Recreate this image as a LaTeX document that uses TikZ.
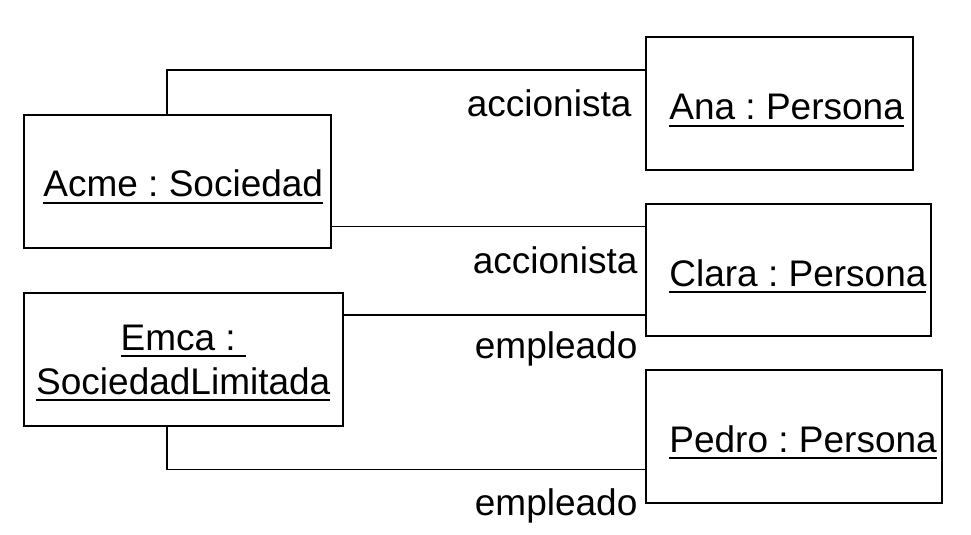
\documentclass[tikz,border=0pt]{standalone}
\usepackage{fontspec}
\setmainfont{Liberation Sans}
\frenchspacing
\newcommand\objname[1]{\setbox0=\hbox{#1}\rlap{\rule[-3.5pt]{\wd0}{1.2pt}}\box0}
\tikzset{
  objbox/.style={draw, line width=0.8pt, rectangle, anchor=north west, inner sep=0pt},
  objtext/.style={anchor=base west, inner sep=0pt},
  link/.style={line width=0.6pt},
  role/.style={anchor=base east, inner sep=0pt},
}
\begin{document}
\begin{tikzpicture}[x=0.5pt, y=-0.5pt, font=\fontsize{18.5}{22}\selectfont]
        \useasboundingbox (0,0) rectangle (971,535);

        \node[objbox, minimum width=153.5pt, minimum height=66.5pt] at (23,114) (acme) {};
        \node[objbox, minimum width=133.5pt, minimum height=66.5pt] at (645,36) (ana) {};
        \node[objbox, minimum width=142.5pt, minimum height=66pt] at (645,203) (clara) {};
        \node[objbox, minimum width=148pt, minimum height=66.5pt] at (645,369) (pedro) {};
        \node[objbox, minimum width=159.5pt, minimum height=66.5pt, align=center, text depth=0pt] at (23,292) (emca) {\objname{Emca :\ }\\\objname{SociedadLimitada}};

        \node[objtext] at (43,197) (acmetext) {\objname{Acme : Sociedad}};
        \node[objtext] at (669,120) (anatext) {\objname{Ana : Persona}};
        \node[objtext] at (669,286) (claratext) {\objname{Clara : Persona}};
        \node[objtext] at (669,452) (pedrotext) {\objname{Pedro : Persona}};

        \coordinate (acmetop) at ([xshift=72pt]acme.north west);
        \coordinate (acmeright) at ([yshift=11pt]acme.south east);
        \coordinate (emcaright) at ([yshift=-11.5pt]emca.north east);
        \coordinate (emcabottom) at ([xshift=72pt]emca.south west);

        \draw[link] (acmetop) |- ([yshift=-17pt]ana.north west) node[role, xshift=-6.5pt, yshift=-23.5pt] {accionista};
        \draw[link] (acmeright) -- (acmeright -| clara.west) node[role, xshift=-3.5pt, yshift=-23.5pt] {accionista};
        \draw[link] (emcaright) -- (emcaright -| clara.west) node[role, xshift=-3.5pt, yshift=-21.5pt] {empleado};
        \draw[link] (emcabottom) |- ([yshift=17pt]pedro.south west) node[role, xshift=-3.5pt, yshift=-23pt] {empleado};
    \end{tikzpicture}
\end{document}
